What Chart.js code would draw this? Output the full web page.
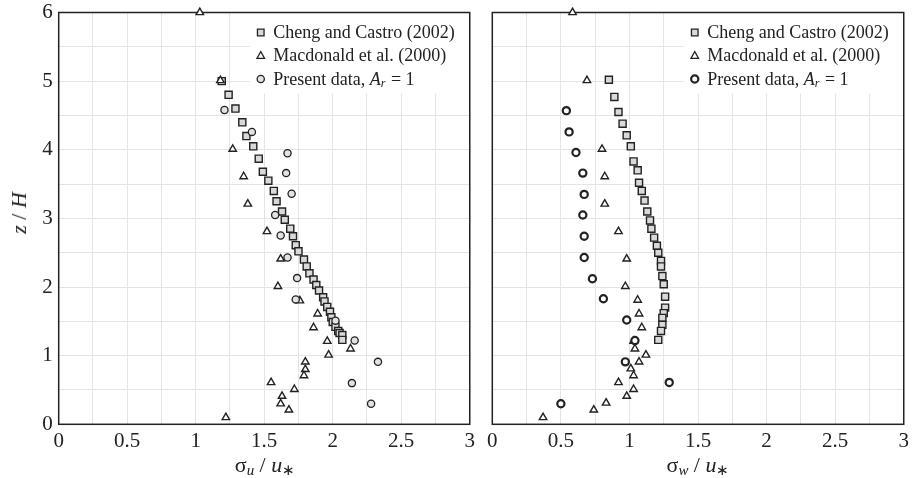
<!DOCTYPE html>
<html>
<head>
<meta charset="utf-8">
<script src="https://cdn.jsdelivr.net/npm/chart.js@4"></script>
<style>
  html, body { margin: 0; padding: 0; background: #fff; }
  #wrap { position: relative; width: 914px; height: 478px; font-family: 'Liberation Serif', 'Times New Roman', serif; color: #222; }
  .panel { position: absolute; top: 0; height: 478px; }
  .xtitle { position: absolute; top: 452px; font-size: 22px; line-height: 26px; white-space: nowrap; transform: translateX(-50%); }
  .ytitle { position: absolute; left: 19px; top: 213px; font-size: 22px; line-height: 26px; white-space: nowrap; transform: translate(-50%, -50%) rotate(-90deg); }
  sub { font-size: 0.68em; vertical-align: -0.22em; line-height: 0; }
</style>
</head>
<body>
<div id="wrap">
  <div class="panel" style="left:0;width:480px"><canvas id="left"></canvas></div>
  <div class="panel" style="left:480px;width:434px"><canvas id="right"></canvas></div>
  <div class="ytitle"><i>z</i> / <i>H</i></div>
  <div class="xtitle" style="left:265px">σ<sub><i>u</i></sub> / <i>u</i><sub>∗</sub></div>
  <div class="xtitle" style="left:698px">σ<sub><i>w</i></sub> / <i>u</i><sub>∗</sub></div>
</div>
<script>
// ---- data ----
// left panel: sigma_u / u*
const chengUx = [1.19, 1.24, 1.29, 1.34, 1.37, 1.42, 1.46, 1.49, 1.53, 1.57, 1.59, 1.63, 1.65, 1.69, 1.71, 1.73, 1.75, 1.79, 1.81, 1.83, 1.86, 1.88, 1.90, 1.93, 1.94, 1.96, 1.98, 1.99, 2.00, 2.02, 2.04, 2.05, 2.07, 2.07];
const chengUz = [5.00, 4.80, 4.60, 4.40, 4.20, 4.05, 3.87, 3.68, 3.55, 3.40, 3.25, 3.10, 2.98, 2.85, 2.74, 2.61, 2.52, 2.40, 2.30, 2.20, 2.11, 2.03, 1.95, 1.85, 1.79, 1.71, 1.64, 1.56, 1.49, 1.42, 1.36, 1.33, 1.30, 1.23];
const macUx = [1.03, 1.18, 1.27, 1.35, 1.38, 1.52, 1.62, 1.60, 1.76, 1.89, 1.86, 1.96, 2.13, 1.97, 1.80, 1.80, 1.79, 1.55, 1.72, 1.63, 1.62, 1.68, 1.22];
const macUz = [6.00, 5.01, 4.01, 3.61, 3.21, 2.81, 2.41, 2.01, 1.80, 1.61, 1.41, 1.21, 1.10, 1.01, 0.91, 0.80, 0.71, 0.61, 0.51, 0.41, 0.30, 0.21, 0.10];
const presUx = [1.21, 1.41, 1.67, 1.66, 1.70, 1.58, 1.62, 1.67, 1.74, 1.73, 2.02, 2.16, 2.33, 2.14, 2.28];
const presUz = [4.58, 4.26, 3.95, 3.66, 3.36, 3.05, 2.75, 2.43, 2.13, 1.82, 1.51, 1.22, 0.91, 0.60, 0.30];

// right panel: sigma_w / u*
const chengWx = [0.85, 0.89, 0.92, 0.95, 0.98, 1.01, 1.03, 1.06, 1.07, 1.09, 1.11, 1.13, 1.15, 1.16, 1.18, 1.20, 1.21, 1.23, 1.23, 1.24, 1.25, 1.26, 1.26, 1.25, 1.24, 1.24, 1.23, 1.21];
const chengWz = [5.02, 4.77, 4.55, 4.38, 4.21, 4.05, 3.83, 3.70, 3.52, 3.40, 3.26, 3.10, 2.97, 2.85, 2.72, 2.60, 2.50, 2.38, 2.30, 2.16, 2.04, 1.86, 1.70, 1.62, 1.55, 1.45, 1.36, 1.23];
const macWx = [0.585, 0.69, 0.80, 0.82, 0.82, 0.92, 0.98, 0.97, 1.06, 1.07, 1.09, 1.03, 1.04, 1.12, 1.07, 1.01, 1.03, 0.92, 1.03, 0.98, 0.83, 0.74, 0.37];
const macWz = [6.00, 5.01, 4.01, 3.61, 3.21, 2.81, 2.41, 2.01, 1.81, 1.61, 1.41, 1.21, 1.10, 1.01, 0.91, 0.81, 0.71, 0.61, 0.51, 0.41, 0.31, 0.21, 0.10];
const presWx = [0.54, 0.56, 0.61, 0.66, 0.67, 0.66, 0.67, 0.67, 0.73, 0.81, 0.98, 1.04, 0.97, 1.29, 0.50];
const presWz = [4.57, 4.26, 3.96, 3.66, 3.35, 3.05, 2.74, 2.43, 2.12, 1.83, 1.52, 1.22, 0.91, 0.61, 0.30];

const xTicks = [0, 0.5, 1, 1.5, 2, 2.5, 3];
const zTicks = [0, 1, 2, 3, 4, 5, 6];
const legendLabels = ['Cheng and Castro (2002)', 'Macdonald et al. (2000)', 'Present data, '];

const FONT = "'Liberation Serif', 'Times New Roman', serif";
const INK = '#222';

const pts = (xs, zs) => xs.map((x, i) => ({ x: x, y: zs[i] }));

// Simple marker drawing for the legend
function marker(ctx, style, x, y, r, fill, lw) {
  ctx.save();
  ctx.fillStyle = fill;
  ctx.strokeStyle = INK;
  ctx.lineWidth = lw;
  ctx.beginPath();
  if (style === 'rect') {
    ctx.rect(x - r, y - r, 2 * r, 2 * r);
  } else if (style === 'triangle') {
    ctx.moveTo(x, y - r * 1.05);
    ctx.lineTo(x + r, y + r * 0.75);
    ctx.lineTo(x - r, y + r * 0.75);
    ctx.closePath();
  } else {
    ctx.arc(x, y, r, 0, Math.PI * 2);
  }
  ctx.fill();
  ctx.stroke();
  ctx.restore();
}

// Frame around the plot area + legend box in the top right corner
const framePlugin = {
  id: 'frame',
  beforeDatasetsDraw(chart) {
    const { ctx, chartArea: a } = chart;
    const o = chart.options.plugins.frame;
    const mx = a.right - 209;
    ctx.save();
    ctx.fillStyle = '#fff';
    ctx.fillRect(mx - 11, a.top, a.right - mx + 11, 81);
    ctx.strokeStyle = INK;
    ctx.lineWidth = 1.5;
    ctx.strokeRect(a.left, a.top, a.right - a.left, a.bottom - a.top);

    const rows = [a.top + 20, a.top + 43, a.top + 66.5];
    marker(ctx, 'rect', mx, rows[0], 3.3, '#d9d9d9', 1.3);
    marker(ctx, 'triangle', mx, rows[1], 3.8, '#fff', 1.3);
    marker(ctx, 'circle', mx, rows[2], 3.6, o.circleFill, o.circleLw);

    ctx.fillStyle = INK;
    ctx.textBaseline = 'middle';
    ctx.font = '18px ' + FONT;
    const tx = mx + 12.5;
    ctx.fillText(legendLabels[0], tx, rows[0] + 1);
    ctx.fillText(legendLabels[1], tx, rows[1] + 1);
    ctx.fillText(legendLabels[2], tx, rows[2] + 1);
    let x = tx + ctx.measureText(legendLabels[2]).width;
    ctx.font = 'italic 18px ' + FONT;
    ctx.fillText('A', x, rows[2] + 1);
    x += ctx.measureText('A').width;
    ctx.font = 'italic 12px ' + FONT;
    ctx.fillText('r', x, rows[2] + 5);
    x += ctx.measureText('r').width + 1;
    ctx.font = '18px ' + FONT;
    ctx.fillText(' = 1', x, rows[2] + 1);
    ctx.restore();
  }
};

function makePanel(id, series, cfg) {
  const fmt = (v, list) => list.some(t => Math.abs(t - v) < 1e-6) ? String(v) : '';
  return new Chart(document.getElementById(id), {
    type: 'scatter',
    data: {
      datasets: [
        {
          label: legendLabels[2], data: series.pres, pointStyle: 'circle', pointRadius: 3.6,
          backgroundColor: cfg.circleFill, borderColor: INK, borderWidth: cfg.circleLw, clip: false
        },
        {
          label: legendLabels[1], data: series.mac, pointStyle: 'triangle', pointRadius: 4.3,
          backgroundColor: '#fff', borderColor: INK, borderWidth: 1.4, clip: false
        },
        {
          label: legendLabels[0], data: series.cheng, pointStyle: 'rect', pointRadius: 5,
          backgroundColor: '#d9d9d9', borderColor: INK, borderWidth: 1.4, clip: false
        }
      ]
    },
    options: {
      responsive: true,
      maintainAspectRatio: false,
      animation: false,
      events: [],
      layout: { padding: { top: 12.5, right: cfg.padRight, left: 0, bottom: 0 } },
      plugins: {
        legend: { display: false },
        tooltip: { enabled: false },
        frame: { circleFill: cfg.circleFill, circleLw: cfg.circleLw }
      },
      scales: {
        x: {
          type: 'linear', min: 0, max: 3,
          afterFit: s => { s.height = 53.7; },
          grid: { color: '#e4e4e4', lineWidth: 1, drawTicks: false },
          border: { display: false },
          ticks: {
            stepSize: 0.25, autoSkip: false, maxRotation: 0, padding: 5,
            color: INK, font: { family: FONT, size: 21 },
            callback: v => fmt(v, xTicks)
          }
        },
        y: {
          type: 'linear', min: 0, max: 6,
          afterFit: s => { s.width = cfg.yWidth; },
          grid: { color: '#e4e4e4', lineWidth: 1, drawTicks: false },
          border: { display: false },
          ticks: {
            display: cfg.showY, stepSize: 0.5, autoSkip: false, padding: 6,
            color: INK, font: { family: FONT, size: 21, lineHeight: 0.6 },
            callback: v => fmt(v, zTicks)
          }
        }
      }
    },
    plugins: [framePlugin]
  });
}

makePanel('left',
  { cheng: pts(chengUx, chengUz), mac: pts(macUx, macUz), pres: pts(presUx, presUz) },
  { yWidth: 58.7, padRight: 8.5, showY: true, circleFill: '#e2e2e2', circleLw: 1.3 });

makePanel('right',
  { cheng: pts(chengWx, chengWz), mac: pts(macWx, macWz), pres: pts(presWx, presWz) },
  { yWidth: 12.3, padRight: 9.7, showY: false, circleFill: '#fff', circleLw: 2.2 });
</script>
</body>
</html>
